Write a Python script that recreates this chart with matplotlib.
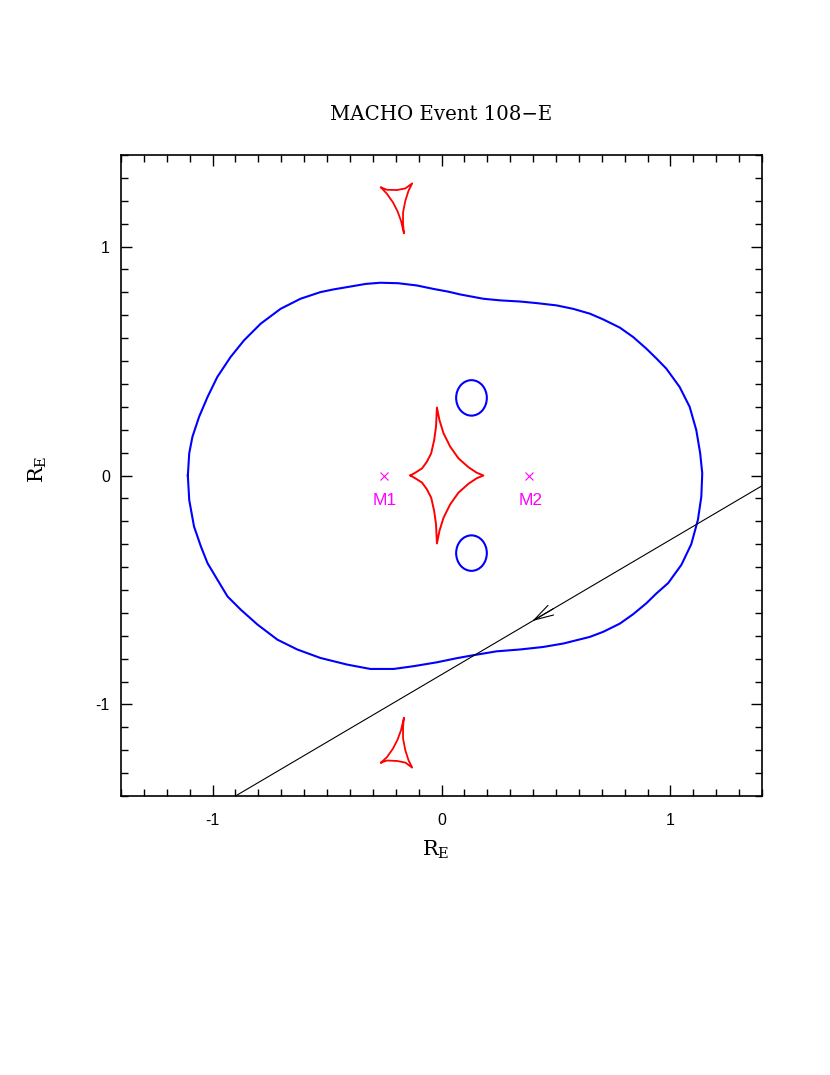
import matplotlib.pyplot as plt
from matplotlib.ticker import MultipleLocator
from matplotlib.patches import Ellipse

plt.rcParams['mathtext.fontset'] = 'dejavuserif'

# outer critical curve (blue), clockwise from the left
crit_x = [-1.108, -1.102, -1.088, -1.059, -1.022, -0.979, -0.921, -0.863, -0.790, -0.703,
          -0.616, -0.529, -0.471, -0.412, -0.330, -0.267, -0.190, -0.107, -0.035, 0.030,
          0.081, 0.183, 0.256, 0.343, 0.416, 0.503, 0.575, 0.648, 0.706, 0.779,
          0.837, 0.895, 0.939, 0.982, 1.040, 1.084, 1.113, 1.130, 1.139, 1.135,
          1.120, 1.091, 1.048, 0.990, 0.939, 0.895, 0.837, 0.779, 0.706, 0.648,
          0.604, 0.532, 0.444, 0.343, 0.241, 0.139, 0.067, -0.020, -0.122, -0.209,
          -0.311, -0.412, -0.529, -0.630, -0.717, -0.804, -0.877, -0.935, -0.979, -1.022,
          -1.051, -1.081, -1.102, -1.108]
crit_y = [0.000, 0.097, 0.169, 0.256, 0.343, 0.431, 0.518, 0.590, 0.663, 0.728,
          0.772, 0.801, 0.813, 0.823, 0.837, 0.842, 0.840, 0.830, 0.815, 0.803,
          0.791, 0.772, 0.765, 0.760, 0.753, 0.743, 0.728, 0.707, 0.682, 0.646,
          0.605, 0.554, 0.511, 0.467, 0.387, 0.300, 0.198, 0.097, 0.010, -0.092,
          -0.194, -0.300, -0.390, -0.470, -0.515, -0.558, -0.606, -0.647, -0.683, -0.705,
          -0.716, -0.734, -0.749, -0.760, -0.768, -0.785, -0.798, -0.816, -0.833, -0.845,
          -0.845, -0.826, -0.797, -0.760, -0.717, -0.651, -0.586, -0.528, -0.455, -0.383,
          -0.310, -0.223, -0.107, 0.000]

# small critical ovals (blue): centre x, centre y, width, height
oval_cx = [0.131, 0.131]
oval_cy = [0.339, -0.339]
oval_w = [0.134, 0.134]
oval_h = [0.155, 0.155]

# central caustic (red)
caus_x = [-0.136, -0.115, -0.085, -0.064, -0.045, -0.032, -0.024, -0.020, -0.009, 0.009,
          0.038, 0.074, 0.118, 0.154, 0.183, 0.154, 0.118, 0.074, 0.038, 0.009,
          -0.009, -0.020, -0.024, -0.032, -0.045, -0.064, -0.085, -0.115, -0.136]
caus_y = [0.000, 0.012, 0.031, 0.060, 0.097, 0.155, 0.213, 0.297, 0.242, 0.184,
          0.126, 0.075, 0.036, 0.012, 0.000, -0.012, -0.036, -0.075, -0.126, -0.184,
          -0.242, -0.297, -0.213, -0.155, -0.097, -0.060, -0.031, -0.012, 0.000]

# planetary caustics (red), top and bottom
tri_up_x = [-0.264, -0.238, -0.194, -0.158, -0.128, -0.144, -0.158, -0.168, -0.168, -0.164,
            -0.177, -0.192, -0.212, -0.238, -0.264]
tri_up_y = [1.258, 1.248, 1.247, 1.254, 1.276, 1.244, 1.200, 1.149, 1.099, 1.058,
            1.113, 1.154, 1.193, 1.230, 1.258]
tri_lo_x = [-0.264, -0.238, -0.194, -0.158, -0.128, -0.144, -0.158, -0.168, -0.168, -0.164,
            -0.177, -0.192, -0.212, -0.238, -0.264]
tri_lo_y = [-1.254, -1.245, -1.247, -1.254, -1.276, -1.244, -1.200, -1.149, -1.099, -1.058,
            -1.113, -1.154, -1.193, -1.230, -1.254]

# lens masses
mass_x = [-0.253, 0.383]
mass_y = [0.0, 0.0]
mass_labels = ['M1', 'M2']

# source trajectory
traj_x = [-0.90, 1.40]
traj_y = [-1.40, -0.045]
arrow_tip = (0.386, -0.642)
arrow_tail = (0.50, -0.575)

fig = plt.figure(figsize=(8.3, 10.75), dpi=100)
ax = fig.add_axes([121/830, 1-796/1075, 641/830, 641/1075])

ax.plot(crit_x, crit_y, color='#0000ff', lw=1.5)
for cx, cy, w, h in zip(oval_cx, oval_cy, oval_w, oval_h):
    ax.add_patch(Ellipse((cx, cy), w, h, fill=False, edgecolor='#0000ff', lw=1.5))
ax.plot(caus_x, caus_y, color='#ff0000', lw=1.4)
ax.plot(tri_up_x, tri_up_y, color='#ff0000', lw=1.3)
ax.plot(tri_lo_x, tri_lo_y, color='#ff0000', lw=1.3)
ax.plot(traj_x, traj_y, color='black', lw=0.8)
ax.annotate('', xy=arrow_tip, xytext=arrow_tail,
            arrowprops=dict(arrowstyle='->,head_length=0.7,head_width=0.2',
                            color='black', lw=0.8, mutation_scale=20))

ax.plot(mass_x, mass_y, 'x', color='#ff00ff', ms=6, mew=0.8)
for mx, lab in zip(mass_x, mass_labels):
    ax.text(mx + 0.005, -0.11, lab, color='#ff00ff', fontsize=12.5,
            family='Liberation Sans', ha='center', va='center')

ax.set_xlim(-1.4, 1.4)
ax.set_ylim(-1.4, 1.4)
ax.xaxis.set_major_locator(MultipleLocator(1))
ax.yaxis.set_major_locator(MultipleLocator(1))
ax.xaxis.set_minor_locator(MultipleLocator(0.1))
ax.yaxis.set_minor_locator(MultipleLocator(0.1))
ax.tick_params(which='both', direction='in', top=True, right=True, width=1.0, color='black')
ax.tick_params(which='major', length=8)
ax.tick_params(which='minor', length=4.7)
ax.tick_params(axis='x', pad=12, labelsize=11.5)
ax.tick_params(axis='y', pad=8, labelsize=11.5)
ax.xaxis.set_major_formatter(plt.FuncFormatter(lambda v, p: '%d' % round(v)))
ax.yaxis.set_major_formatter(plt.FuncFormatter(lambda v, p: '%d' % round(v)))
for lab in ax.get_xticklabels() + ax.get_yticklabels():
    lab.set_family('Liberation Sans')
for sp in ax.spines.values():
    sp.set_linewidth(1.2)

ax.set_title('MACHO Event 108\u2212E', family='DejaVu Serif', fontsize=14.2, pad=25)
ax.set_xlabel(r'$\mathrm{R_E}$', fontsize=15)
ax.xaxis.set_label_coords(0.491, -0.067)
ax.set_ylabel(r'$\mathrm{R_E}$', fontsize=15)
ax.yaxis.set_label_coords(-0.112, 0.509)

fig.savefig('out.png', dpi=100)
